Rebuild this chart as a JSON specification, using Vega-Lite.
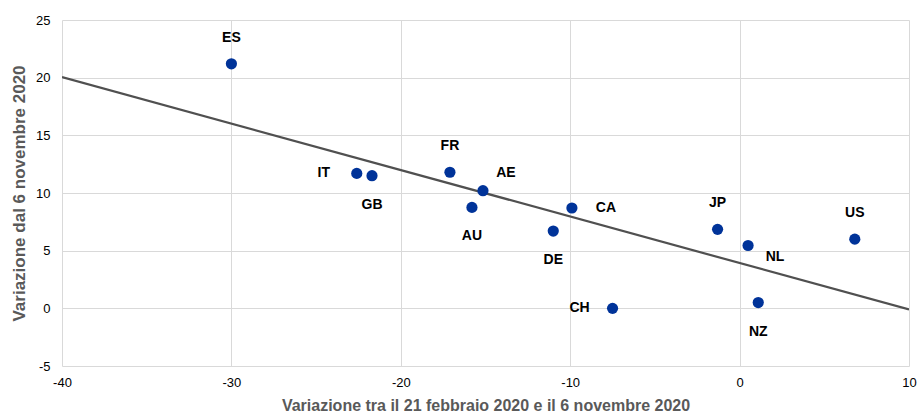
{
  "$schema": "https://vega.github.io/schema/vega-lite/v6.json",
  "width": 847,
  "height": 346,
  "autosize": {"type": "none"},
  "padding": {"left": 62, "top": 20, "right": 11, "bottom": 51},
  "background": "white",
  "config": {
    "view": {"stroke": null},
    "font": "Liberation Sans",
    "axis": {
      "labelFont": "Liberation Sans",
      "labelFontSize": 13,
      "labelColor": "#000000",
      "labelFlush": false,
      "labelExpr": "datum.value + ''",
      "titleFont": "Liberation Sans",
      "titleFontWeight": "bold",
      "titleColor": "#595959",
      "gridColor": "#d9d9d9",
      "gridWidth": 1,
      "domain": false,
      "ticks": false
    }
  },
  "datasets": {
    "pts": [
      {"c": "ES", "x": -30.0, "y": 21.2, "pos": "above"},
      {"c": "IT", "x": -22.6, "y": 11.7, "pos": "left"},
      {"c": "GB", "x": -21.7, "y": 11.5, "pos": "below"},
      {"c": "FR", "x": -17.1, "y": 11.8, "pos": "above"},
      {"c": "AE", "x": -15.15, "y": 10.2, "pos": "upright"},
      {"c": "AU", "x": -15.8, "y": 8.75, "pos": "below"},
      {"c": "DE", "x": -11.0, "y": 6.7, "pos": "below"},
      {"c": "CA", "x": -9.9, "y": 8.7, "pos": "right"},
      {"c": "CH", "x": -7.5, "y": 0.0, "pos": "left"},
      {"c": "JP", "x": -1.3, "y": 6.85, "pos": "above"},
      {"c": "NL", "x": 0.5, "y": 5.45, "pos": "downright"},
      {"c": "NZ", "x": 1.1, "y": 0.5, "pos": "below"},
      {"c": "US", "x": 6.8, "y": 6.0, "pos": "above"}
    ],
    "trend": [
      {"x": -40, "y": 20.05},
      {"x": 10, "y": -0.1}
    ]
  },
  "encoding": {
    "x": {
      "field": "x", "type": "quantitative",
      "scale": {"domain": [-40, 10], "nice": false, "zero": false},
      "axis": {"values": [-40, -30, -20, -10, 0, 10], "labelPadding": 10, "titlePadding": 8, "titleFontSize": 16, "title": "Variazione tra il 21 febbraio 2020 e il 6 novembre 2020"}
    },
    "y": {
      "field": "y", "type": "quantitative",
      "scale": {"domain": [-5, 25], "nice": false, "zero": false},
      "axis": {"values": [-5, 0, 5, 10, 15, 20, 25], "labelPadding": 12, "titlePadding": 7, "titleFontSize": 17, "title": "Variazione dal 6 novembre 2020"}
    }
  },
  "layer": [
    {
      "data": {"name": "trend"},
      "mark": {"type": "line", "color": "#505050", "strokeWidth": 2.2, "clip": true},
      "encoding": {}
    },
    {
      "data": {"name": "pts"},
      "mark": {"type": "circle", "color": "#003399", "opacity": 1, "size": 125}
    },
    {
      "data": {"name": "pts"},
      "transform": [{"filter": "datum.pos == 'above'"}],
      "mark": {"type": "text", "fontWeight": "bold", "fontSize": 14, "color": "#000000", "dy": -26, "align": "center", "baseline": "middle"},
      "encoding": {"text": {"field": "c"}}
    },
    {
      "data": {"name": "pts"},
      "transform": [{"filter": "datum.pos == 'below'"}],
      "mark": {"type": "text", "fontWeight": "bold", "fontSize": 14, "color": "#000000", "dy": 29, "align": "center", "baseline": "middle"},
      "encoding": {"text": {"field": "c"}}
    },
    {
      "data": {"name": "pts"},
      "transform": [{"filter": "datum.pos == 'left'"}],
      "mark": {"type": "text", "fontWeight": "bold", "fontSize": 14, "color": "#000000", "dx": -33, "align": "center", "baseline": "middle"},
      "encoding": {"text": {"field": "c"}}
    },
    {
      "data": {"name": "pts"},
      "transform": [{"filter": "datum.pos == 'right'"}],
      "mark": {"type": "text", "fontWeight": "bold", "fontSize": 14, "color": "#000000", "dx": 34, "align": "center", "baseline": "middle"},
      "encoding": {"text": {"field": "c"}}
    },
    {
      "data": {"name": "pts"},
      "transform": [{"filter": "datum.pos == 'upright'"}],
      "mark": {"type": "text", "fontWeight": "bold", "fontSize": 14, "color": "#000000", "dx": 23, "dy": -18, "align": "center", "baseline": "middle"},
      "encoding": {"text": {"field": "c"}}
    },
    {
      "data": {"name": "pts"},
      "transform": [{"filter": "datum.pos == 'downright'"}],
      "mark": {"type": "text", "fontWeight": "bold", "fontSize": 14, "color": "#000000", "dx": 27, "dy": 12, "align": "center", "baseline": "middle"},
      "encoding": {"text": {"field": "c"}}
    }
  ]
}
